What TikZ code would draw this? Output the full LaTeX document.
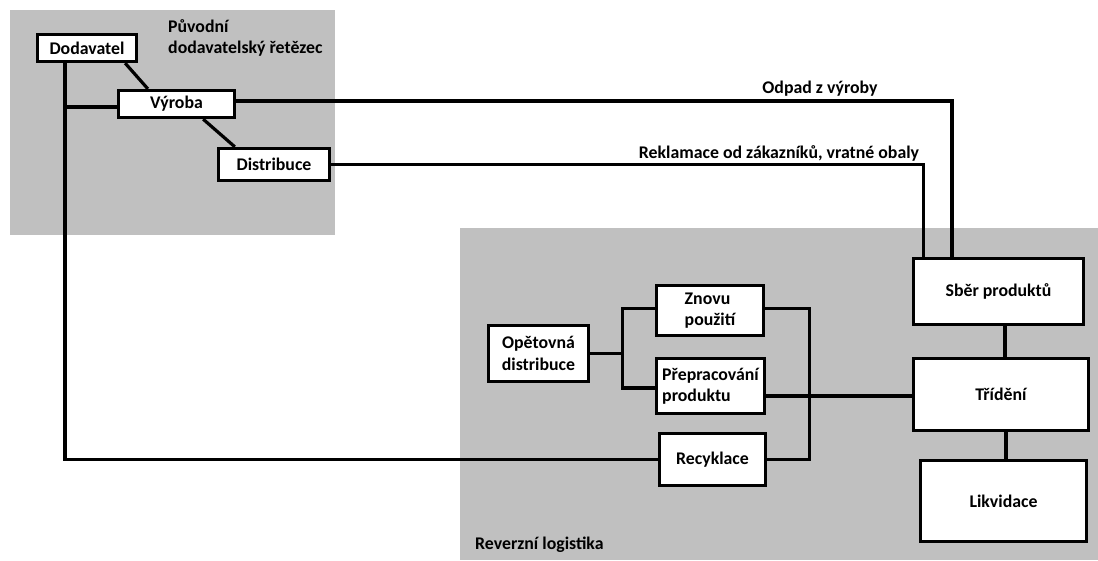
\documentclass[tikz,border=0pt]{standalone}
\usepackage{fontspec}
\setmainfont{Carlito}
\definecolor{areagray}{RGB}{192,192,192}

\begin{document}
\begin{tikzpicture}[x=1pt, y=-1pt,
        box/.style={draw, line width=3.3pt, fill=white, inner sep=0pt, align=center,
            font=\fontsize{17.8}{21.5}\selectfont\bfseries},
        lbl/.style={inner sep=0pt, font=\fontsize{17.8}{21.5}\selectfont\bfseries},
        link/.style={line width=3.2pt}]
        \useasboundingbox (0,0) rectangle (1098,560);

        % areas
        \fill[areagray] (10,10) rectangle (335,235);
        \fill[areagray] (460,228) rectangle (1098,560);
        \node[lbl, anchor=north west, align=left] (puvodni) at (168,19) {Původní\\dodavatelský řetězec};
        \node[lbl, anchor=west] (reverzni) at (475,545) {Reverzní logistika};

        % original chain
        \node[box, minimum width=99, minimum height=27] (dod) at (87,48) {Dodavatel};
        \node[box, minimum width=116, minimum height=27] (vyroba) at (176.5,104) {Výroba};
        \node[box, minimum width=111, minimum height=32] (dist) at (274,164.5) {Distribuce};

        % reverse logistics
        \node[box, minimum width=170, minimum height=66] (sber) at (998.5,291.5) {Sběr produktů};
        \node[box, minimum width=175, minimum height=72] (trideni) at (1001,394.5) {Třídění};
        \node[box, minimum width=166, minimum height=81] (likv) at (1003.5,501) {Likvidace};
        \node[box, minimum width=100, minimum height=56] (opet) at (538.5,353.5) {Opětovná\\distribuce};
        \node[box, minimum width=107, minimum height=50, align=left] (znovu) at (710,310.5) {Znovu\\použití};
        \node[box, minimum width=108, minimum height=55, align=left] (prep) at (710.5,386) {Přepracování\\produktu};
        \node[box, minimum width=106, minimum height=52] (recy) at (712.5,459.5) {Recyklace};

        % links
        \draw[link] ([xshift=-13pt]dod.south east) -- ([xshift=31pt]vyroba.north west);
        \draw[link] ([xshift=-33pt]vyroba.south east) -- ([xshift=18pt]dist.north west);
        \coordinate (trunk) at ([xshift=-22pt]dod.south);
        \draw[link] (trunk) |- (recy.west);
        \draw[link] ([yshift=-3pt]vyroba.west) -- ([yshift=-3pt]vyroba.west -| trunk);
        \draw[link] ([yshift=3pt]vyroba.east) -| ([xshift=-46.5pt]sber.north);
        \draw[link] (dist.east) -| ([xshift=-75pt]sber.north);
        \node[lbl] (odpad) at (820,89) {Odpad z výroby};
        \node[lbl] (reklamace) at (779,153) {Reklamace od zákazníků, vratné obaly};

        \draw[link] ([xshift=6.5pt]sber.south) -- ([xshift=6.5pt]sber.south |- trideni.north);
        \draw[link] ([xshift=5pt]trideni.south) -- ([xshift=5pt]trideni.south |- likv.north);

        \draw[link] (opet.east) -- ++(32,0) coordinate (fork);
        \draw[link] ([yshift=2pt]znovu.west) -| (fork) |- ([yshift=-2pt]prep.west);
        \draw[link] ([yshift=2pt]znovu.east) -- ++(44,0) |- (recy.east);
        \draw[link] ([yshift=-10pt]prep.east) -- ([yshift=-10pt]prep.east -| trideni.west);
    \end{tikzpicture}
\end{document}
